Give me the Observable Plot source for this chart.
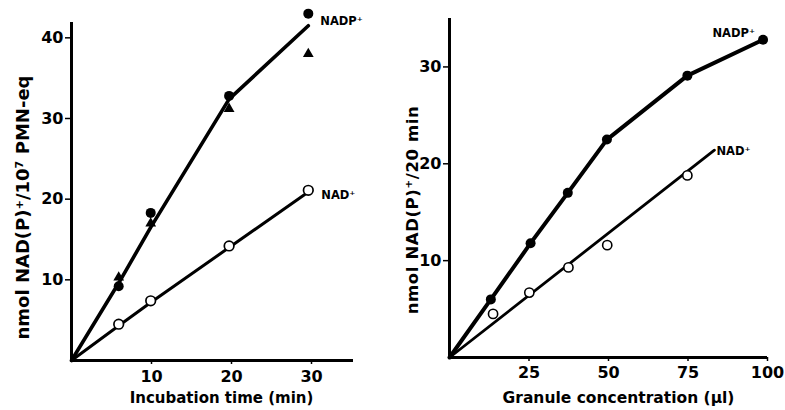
<!DOCTYPE html>
<html>
<head>
<meta charset="utf-8">
<script src="https://cdn.jsdelivr.net/npm/d3@7"></script>
<script src="https://cdn.jsdelivr.net/npm/@observablehq/plot@0.6"></script>
<style>
  html, body { margin: 0; padding: 0; background: #fff; }
  #wrap { position: relative; width: 785px; height: 410px; overflow: hidden; }
  #left { position: absolute; left: 0; top: 0; }
  #right { position: absolute; left: 400px; top: 0; }
  .ytitle text { letter-spacing: 0.6px; }
</style>
</head>
<body>
<div id="wrap"><div id="left"></div><div id="right"></div></div>
<script>
// ---- Left panel: incubation time ----
const leftTime       = [5.9, 9.9, 19.7, 29.6];          // min
const leftNADPcircle = [9.2, 18.3, 32.8, 43.0];
const leftNADPtri    = [10.3, 17.0, 31.2, 38.0];
const leftNAD        = [4.5, 7.4, 14.2, 21.1];
const leftLineTime   = [0, 5.9, 9.9, 19.7, 29.6];
const leftNADPline   = [0, 9.6, 16.5, 32.4, 41.5];
const leftNADline    = [0, 4.3, 7.2, 14.0, 20.9];
const leftXTicks     = [10, 20, 30];
const leftYTicks     = [10, 20, 30, 40];

// ---- Right panel: granule concentration ----
const rightConc      = [13, 25.5, 37.2, 49.5, 74.8, 98.6]; // µl
const rightNADP      = [6.0, 11.8, 17.0, 22.5, 29.1, 32.8];
const rightNADconc   = [13.7, 25.1, 37.4, 49.6, 74.8];
const rightNAD       = [4.5, 6.7, 9.3, 11.6, 18.8];
const rightNADfitX   = [0, 83.3];
const rightNADfitY   = [0, 21.4];
const rightXTicks    = [25, 50, 75, 100];
const rightYTicks    = [10, 20, 30];

const FONT = "'DejaVu Sans', Verdana, sans-serif";

const zip = (xs, ys) => xs.map((x, i) => ({x, y: ys[i]}));
const nadpLabel = "NADP\u207A";
const nadLabel = "NAD\u207A";

const leftPlot = Plot.plot({
  width: 400, height: 410,
  marginLeft: 71, marginRight: 47, marginTop: 22, marginBottom: 50,
  x: {domain: [0, 35.25]},
  y: {domain: [0, 41.9]},
  style: {fontFamily: FONT, color: "#000", background: "#fff"},
  marks: [
    Plot.axisY({ticks: leftYTicks, tickSize: 6, tickPadding: 2, fontSize: 16, fontWeight: 700, strokeWidth: 1.5, label: null}),
    Plot.axisX({ticks: leftXTicks, tickSize: 4, tickPadding: 6, fontSize: 16, fontWeight: 700, strokeWidth: 1.5, label: null}),
    Plot.ruleX([0], {stroke: "#000", strokeWidth: 3}),
    Plot.ruleY([0], {stroke: "#000", strokeWidth: 3}),
    Plot.line(zip(leftLineTime, leftNADPline), {x: "x", y: "y", stroke: "#000", strokeWidth: 3.6}),
    Plot.line(zip(leftLineTime, leftNADline), {x: "x", y: "y", stroke: "#000", strokeWidth: 3}),
    Plot.dot(zip(leftTime, leftNADPtri), {x: "x", y: "y", symbol: "triangle", r: 4, fill: "#000"}),
    Plot.dot(zip(leftTime, leftNADPcircle), {x: "x", y: "y", r: 5, fill: "#000"}),
    Plot.dot(zip(leftTime, leftNAD), {x: "x", y: "y", r: 4.8, fill: "#fff", stroke: "#000", strokeWidth: 1.7}),
    Plot.text(zip(leftTime, leftNADPcircle).slice(-1), {x: "x", y: "y", text: () => nadpLabel, textAnchor: "start", dx: 12, dy: 8, fontSize: 11.5, fontWeight: 700}),
    Plot.text(zip(leftTime, leftNAD).slice(-1), {x: "x", y: "y", text: () => nadLabel, textAnchor: "start", dx: 13, dy: 5, fontSize: 11.5, fontWeight: 700}),
    Plot.text(["nmol NAD(P)\u207A/10\u2077 PMN-eq"], {frameAnchor: "left", textAnchor: "middle", rotate: -90, dx: -48, dy: 16, fontSize: 18, fontWeight: 700}),
    Plot.text(["Incubation time (min)"], {frameAnchor: "bottom", textAnchor: "middle", dx: 9, dy: 42, fontSize: 15, fontWeight: 700})
  ]
});

const rightPlot = Plot.plot({
  width: 385, height: 410,
  marginLeft: 49, marginRight: 18, marginTop: 18, marginBottom: 53,
  x: {domain: [0, 100]},
  y: {domain: [0, 35]},
  style: {fontFamily: FONT, color: "#000", background: "#fff"},
  marks: [
    Plot.axisY({ticks: rightYTicks, tickSize: 6, tickPadding: 2, fontSize: 16, fontWeight: 700, strokeWidth: 1.5, label: null}),
    Plot.axisX({ticks: rightXTicks, tickSize: 4, tickPadding: 5, fontSize: 16, fontWeight: 700, strokeWidth: 1.5, label: null}),
    Plot.ruleX([0], {stroke: "#000", strokeWidth: 3}),
    Plot.ruleY([0], {stroke: "#000", strokeWidth: 3}),
    Plot.line([{x: 0, y: 0}, ...zip(rightConc, rightNADP)], {x: "x", y: "y", stroke: "#000", strokeWidth: 4}),
    Plot.line(zip(rightNADfitX, rightNADfitY), {x: "x", y: "y", stroke: "#000", strokeWidth: 2.8}),
    Plot.dot(zip(rightConc, rightNADP), {x: "x", y: "y", r: 5, fill: "#000"}),
    Plot.dot(zip(rightNADconc, rightNAD), {x: "x", y: "y", r: 4.6, fill: "#fff", stroke: "#000", strokeWidth: 1.6}),
    Plot.text(zip(rightConc, rightNADP).slice(-1), {x: "x", y: "y", text: () => nadpLabel, textAnchor: "end", dx: -8, dy: -6, fontSize: 11.5, fontWeight: 700}),
    Plot.text(zip(rightNADfitX, rightNADfitY).slice(-1), {x: "x", y: "y", text: () => nadLabel, textAnchor: "start", dx: 2, dy: 1, fontSize: 11.5, fontWeight: 700}),
    Plot.text(["nmol NAD(P)\u207A/20 min"], {frameAnchor: "left", textAnchor: "middle", rotate: -90, dx: -37, dy: 22, fontSize: 16.5, fontWeight: 700, className: "ytitle"}),
    Plot.text(["Granule concentration (\u00B5l)"], {frameAnchor: "bottom", textAnchor: "middle", dx: 10, dy: 45, fontSize: 15.5, fontWeight: 700})
  ]
});

document.getElementById("left").appendChild(leftPlot);
document.getElementById("right").appendChild(rightPlot);
</script>
</body>
</html>
